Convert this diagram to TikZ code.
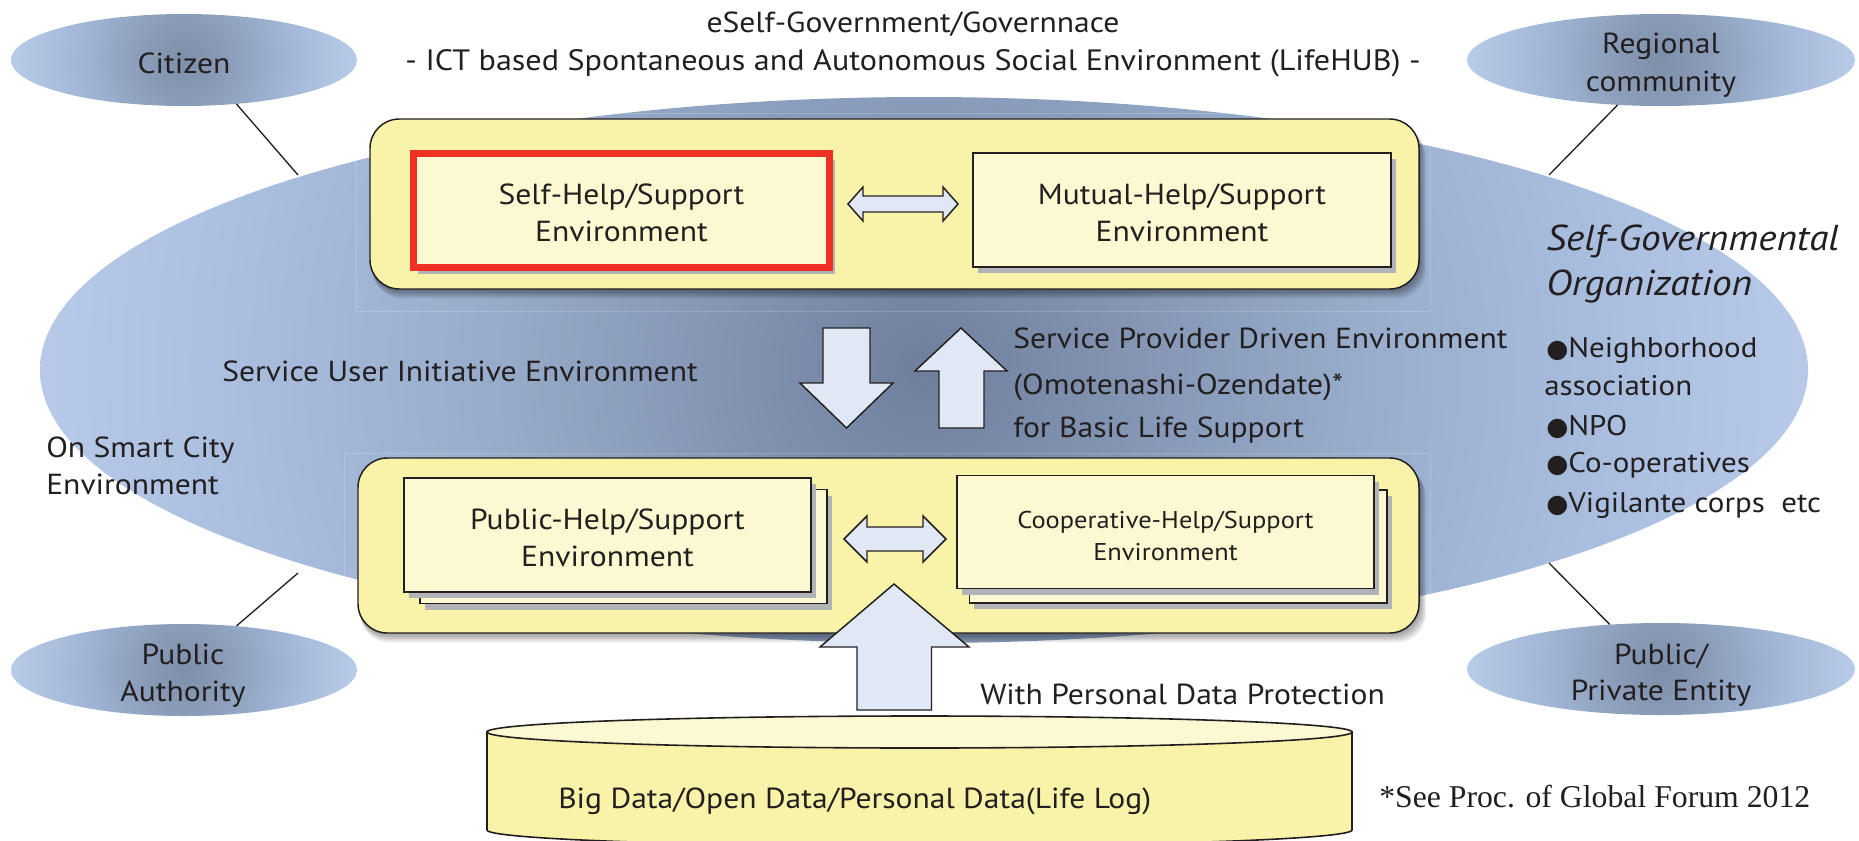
\documentclass[tikz,border=0pt]{standalone}
\usepackage{fontspec}
\setmainfont[FakeStretch=1.09]{PT Sans}
\newfontfamily\tnr{Liberation Serif}
\newfontfamily\djv{DejaVu Sans}
\usetikzlibrary{shapes.geometric,shadows}
\definecolor{ink}{HTML}{231F20}
\definecolor{boxyellow}{HTML}{F8F3A8}
\definecolor{boxlight}{HTML}{FCF9D2}
\definecolor{arrowfill}{HTML}{E1E8F5}
\definecolor{shade}{HTML}{B1B3B6}
\definecolor{hired}{HTML}{EE3124}
\pgfdeclareradialshading{bigblue}{\pgfpointorigin}{rgb(0bp)=(0.43,0.50,0.61);rgb(7bp)=(0.53,0.60,0.72);rgb(12bp)=(0.59,0.67,0.79);rgb(19bp)=(0.66,0.74,0.87);rgb(25bp)=(0.72,0.79,0.91);rgb(50bp)=(0.72,0.79,0.91)}
\pgfdeclareradialshading{smallblue}{\pgfpointorigin}{rgb(0bp)=(0.49,0.56,0.66);rgb(6bp)=(0.54,0.61,0.72);rgb(12bp)=(0.60,0.68,0.80);rgb(18bp)=(0.66,0.74,0.86);rgb(25bp)=(0.72,0.80,0.91);rgb(50bp)=(0.72,0.80,0.91)}
\newcommand{\bul}{{\djv\fontsize{19}{19}\selectfont ●}}
\newcommand{\liftline}{\rule{0pt}{19.5pt}}
\newcommand{\liftsmall}{\rule{0pt}{18.2pt}}
\tikzset{
  x=0.75pt,y=-0.75pt,
  base text/.style={text=ink,inner sep=0pt,font=\fontsize{21.75}{27.75}\selectfont},
  lbl/.style={base text,anchor=base west},
  ctr/.style={base text,anchor=base},
  orb/.style={ellipse,minimum width=#1*1.5pt,minimum height=69pt,inner sep=0pt,
    path picture={\shade[shading=smallblue] (path picture bounding box.center) circle[radius=#1];}},
  link/.style={draw=ink,line width=1pt},
  panel/.style={draw=ink,line width=1.1pt,fill=boxyellow,rounded corners=22pt},
  card/.style={rectangle,draw=ink,line width=1.25pt,fill=boxlight,inner sep=0pt,align=center,text=ink,
    font=\fontsize{21.75}{27.75}\selectfont,
    drop shadow={shadow xshift=3.7pt,shadow yshift=-4.5pt,fill=shade,opacity=1}},
  block/.style={draw=ink,line width=1.1pt,fill=arrowfill,line join=miter},
}
\begin{document}
\begin{tikzpicture}
\useasboundingbox (0,0) rectangle (1859,840);
% big ellipse
\node[ellipse,minimum width=1326pt,minimum height=409.5pt,inner sep=0pt,
  path picture={\shade[shading=bigblue] (path picture bounding box.center) circle[radius=884];}] (gov) at (924,370) {};
% satellite ellipses
\node[orb=173] (citizen) at (184,60) {};
\node[orb=194] (regional) at (1661,60) {};
\node[orb=173] (authority) at (184,670) {};
\node[orb=194] (entity) at (1661,669) {};
\coordinate (govnw) at (298,175);
\coordinate (govne) at (1549,175);
\coordinate (govsw) at (298,573);
\coordinate (govse) at (1549,563);
\draw[link] (citizen.-40) -- (govnw);
\draw[link] (regional.226) -- (govne);
\draw[link] (authority.40) -- (govsw);
\draw[link] (entity.139) -- (govse);
% faint image frames
\begin{scope}
\clip (924,370) ellipse [x radius=884,y radius=273];
\draw[white,opacity=.18,line width=.6pt] (356,113) rectangle (1430,311);
\draw[white,opacity=.18,line width=.6pt] (344,453) rectangle (1430,650);
\end{scope}
% panel shadows
\foreach \o in {1,...,8}{
  \fill[black,opacity=.055,rounded corners=22pt] (370+\o*.3,119+\o*1.2) rectangle (1419+\o*.9,289+\o*1.2);
  \fill[black,opacity=.055,rounded corners=22pt] (358+\o*.3,458+\o*1.2) rectangle (1419+\o*.9,633+\o*1.2);
}
\draw[panel] (370,119) rectangle (1419,289);
\draw[panel] (358,458) rectangle (1419,633);
% top cards
\node[card,draw=hired,line width=5.2pt,minimum width=312.5pt,minimum height=85.5pt] (self) at (621.5,210.5) {\liftline Self-Help/Support\\Environment};
\node[card,minimum width=313.5pt,minimum height=85.5pt] (mutual) at (1182,210) {\liftline Mutual-Help/Support\\Environment};
% bottom cards
\node[card,minimum width=305pt,minimum height=85.5pt] (publicb) at (623.5,546.5) {};
\node[card,minimum width=305pt,minimum height=85.5pt] (public) at (607.5,535) {\liftline Public-Help/Support\\Environment};
\node[card,minimum width=313pt,minimum height=84.75pt] (coopb) at (1178,546.5) {};
\node[card,minimum width=312.5pt,minimum height=84.75pt,font=\fontsize{18.2}{24}\selectfont] (coop) at (1165.5,532) {\liftsmall Cooperative-Help/Support\\Environment};
% block arrows
\draw[block] (848,204) -- (863,187) -- (863,196) -- (943,196) -- (943,187) -- (958,204) -- (943,221) -- (943,212) -- (863,212) -- (863,221) -- cycle;
\draw[block] (844,539) -- (867,516) -- (867,527) -- (923,527) -- (923,516) -- (946,539) -- (923,562) -- (923,551) -- (867,551) -- (867,562) -- cycle;
\draw[block] (823,328) -- (870,328) -- (870,383) -- (893,383) -- (846.5,428) -- (800,383) -- (823,383) -- cycle;
\draw[block] (939,428) -- (984,428) -- (984,371) -- (1007,371) -- (961,328) -- (915,371) -- (939,371) -- cycle;
% cylinder
\draw[draw=ink,line width=1.2pt,fill=boxyellow] (487,732) -- (487,830) arc[start angle=180,end angle=0,x radius=432.5,y radius=16] -- (1352,732) -- cycle;
\node[ellipse,draw=ink,line width=1.2pt,fill=boxlight,minimum width=648.75pt,minimum height=24pt,inner sep=0pt] (store) at (919.5,732) {};
\draw[block] (857,710) -- (931.5,710) -- (931.5,647) -- (969,647) -- (894,584) -- (820,647) -- (857,647) -- cycle;
% labels
\node[ctr] (t1) at (913,32) {eSelf-Government/Governnace};
\node[ctr,font=\fontsize{22.1}{27}\selectfont] (t2) at (913,70) {- ICT based Spontaneous and Autonomous Social Environment (LifeHUB) -};
\node[ctr] (l1) at (184,73) {Citizen};
\node[ctr] (l2a) at (1661,53) {Regional};
\node[ctr] (l2b) at (1661,91) {community};
\node[ctr] (l3a) at (183,664) {Public};
\node[ctr] (l3b) at (183,701) {Authority};
\node[ctr] (l4a) at (1661,664) {Public/};
\node[ctr] (l4b) at (1661,700) {Private Entity};
\node[lbl] (s1) at (222,381) {Service User Initiative Environment};
\node[lbl] (s2) at (1013,348) {Service Provider Driven Environment};
\node[lbl] (s3) at (1013,394) {(Omotenashi-Ozendate)*};
\node[lbl] (s4) at (1013,437) {for Basic Life Support};
\node[lbl] (s5) at (46,457) {On Smart City};
\node[lbl] (s6) at (46,494) {Environment};
\node[lbl] (s7) at (980,704) {With Personal Data Protection};
\node[lbl] (s8) at (558,808) {Big Data/Open Data/Personal Data(Life Log)};
\node[lbl,font=\tnr\fontsize{23.8}{27}\selectfont] (s9) at (1379,807) {*See Proc. of Global Forum 2012};
\node[lbl,font=\itshape\fontsize{27}{30}\selectfont] (o1) at (1546,250) {Self-Governmental};
\node[lbl,font=\itshape\fontsize{27}{30}\selectfont] (o2) at (1546,295) {Organization};
\node[lbl,font=\fontsize{21.3}{27}\selectfont] (o3) at (1546,357) {\bul Neighborhood};
\node[lbl,font=\fontsize{21.3}{27}\selectfont] (o4) at (1544,395) {association};
\node[lbl,font=\fontsize{21.3}{27}\selectfont] (o5) at (1546,435) {\bul NPO};
\node[lbl,font=\fontsize{21.3}{27}\selectfont] (o6) at (1546,472) {\bul Co-operatives};
\node[lbl,font=\fontsize{21.3}{27}\selectfont] (o7) at (1546,512) {\bul Vigilante corps\ \ etc};
\end{tikzpicture}
\end{document}
